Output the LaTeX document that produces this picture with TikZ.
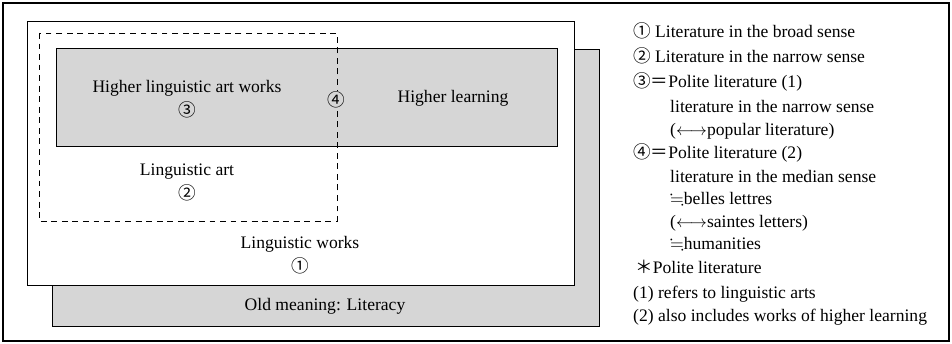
\documentclass[tikz,border=0pt]{standalone}
\usepackage{amssymb}
\usepackage{fontspec}
\setmainfont{Liberation Serif}
\newfontfamily\textserif{Liberation Serif}
\newfontfamily\cjkfont{Noto Sans CJK JP}

\begin{document}
\begin{tikzpicture}[x=0.03cm,y=-0.03cm,
  every node/.style={font=\textserif\fontsize{15}{18}\selectfont, inner sep=0pt},
  shadebox/.style={draw, fill=black!16, line width=0.8pt},
  keyline/.style={anchor=base west}]
  \useasboundingbox (0,0) rectangle (952,344);
  \draw [line width=1.5pt](3,3) rectangle (949,341);
  \draw [shadebox](52,49) rectangle (599,326);
  \draw [line width=0.8pt, fill=white](27,21) rectangle (574,285);
  \draw [shadebox](56,48) rectangle (557,146);
  \draw [line width=0.8pt, dash pattern=on 5pt off 4pt](39,33) rectangle (337,221);
  \node (hlaw) at (187,88) {Higher linguistic art works};
  \node (three) at (187,110) {\cjkfont ③};
  \node[fill=black!16, inner sep=1pt] (four) at (336,100) {\cjkfont ④};
  \node (hlearn) at (453,98) {Higher learning};
  \node (lart) at (187,172) {Linguistic art};
  \node (two) at (187,193) {\cjkfont ②};
  \node (lworks) at (300,244) {Linguistic works};
  \node (one) at (300,266) {\cjkfont ①};
  \node (oldm) at (325,306) {Old meaning: Literacy};
  % legend
  \node[keyline] (k1) at (633,38) {{\cjkfont ①} Literature in the broad sense};
  \node[keyline] (k2) at (633,63) {{\cjkfont ②} Literature in the narrow sense};
  \node[keyline] (k3) at (633,88) {{\cjkfont ③＝}Polite literature (1)};
  \node[keyline] (k3a) at (670,113) {literature in the narrow sense};
  \node[keyline] (k3b) at (670,136) {($\longleftrightarrow$popular literature)};
  \node[keyline] (k4) at (633,159) {{\cjkfont ④＝}Polite literature (2)};
  \node[keyline] (k4a) at (670,183) {literature in the median sense};
  \node[keyline] (k4b) at (670,205) {$\fallingdotseq$belles lettres};
  \node[keyline] (k4c) at (670,228) {($\longleftrightarrow$saintes letters)};
  \node[keyline] (k4d) at (670,249) {$\fallingdotseq$humanities};
  \node[keyline] (note) at (635,273) {{\cjkfont ＊}Polite literature};
  \node[keyline] (note1) at (633,298) {(1) refers to linguistic arts};
  \node[keyline] (note2) at (633,321) {(2) also includes works of higher learning};
\end{tikzpicture}
\end{document}
